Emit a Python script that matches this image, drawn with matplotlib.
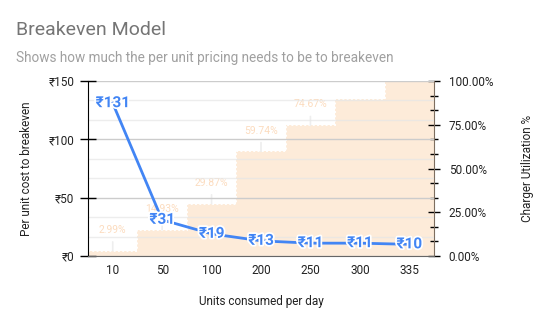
import numpy as np
import matplotlib
matplotlib.use('Agg')
import matplotlib.pyplot as plt
import matplotlib.patheffects as pe
from matplotlib.ticker import FuncFormatter, MultipleLocator

plt.rcParams['font.family'] = ['Roboto', 'DejaVu Sans']

units = ['10', '50', '100', '200', '250', '300', '335']
cost = [131, 31, 19, 13, 11, 11, 10]
utilization = [2.99, 14.93, 29.87, 59.74, 74.67, 89.60, 100.0]
util_labels = ['2.99%', '14.93%', '29.87%', '59.74%', '74.67%', '', '']

fig = plt.figure(figsize=(5.44, 3.25), dpi=100)
ax = fig.add_axes([88 / 544, 69 / 325, 346 / 544, 175 / 325])
ax2 = ax.twinx()
# put the cost line in front of the stepped area
ax.set_zorder(ax2.get_zorder() + 1)
ax.patch.set_visible(False)

x = np.arange(len(units))
edges = np.arange(len(units) + 1) - 0.5

# stepped area for utilization
ax2.stairs(utilization, edges, fill=True, color='#fdebd9', zorder=1)
ax2.stairs(utilization, edges, fill=False, color='white', linestyle=(0, (1, 1.2)),
           linewidth=1.4, baseline=None, zorder=2)
for i, lab in enumerate(util_labels):
    if not lab:
        continue
    ax2.annotate(lab, xy=(x[i], utilization[i]), xytext=(0, 15), textcoords='offset points',
                 ha='center', va='center', fontsize=7.5, color='#fcdcbf',
                 arrowprops=dict(arrowstyle='-', color='#eeeeee', lw=1.2,
                                 shrinkA=3, shrinkB=0))
ax2.set_ylim(0, 100)
ax2.yaxis.set_major_locator(MultipleLocator(25))
ax2.yaxis.set_minor_locator(MultipleLocator(100 / 12))
ax2.yaxis.set_major_formatter(FuncFormatter(lambda v, p: '%.2f%%' % v))
ax2.tick_params(axis='y', which='major', direction='inout', length=9, width=1,
                labelsize=8.5, labelcolor='#222222', pad=6)
ax2.tick_params(axis='y', which='minor', direction='inout', length=6, width=1)
ax2.set_ylabel('Charger Utilization %', fontsize=8.5, color='#222222', labelpad=20)

# cost per unit line
ax.set_ylim(0, 150)
ax.set_xlim(-0.5, len(units) - 0.5)
ax.yaxis.set_major_locator(MultipleLocator(50))
ax.yaxis.set_minor_locator(MultipleLocator(50 / 3))
ax.yaxis.set_major_formatter(FuncFormatter(lambda v, p: '₹%d' % v))
ax.grid(axis='y', which='major', color='#cccccc', linewidth=1, zorder=0)
ax.grid(axis='y', which='minor', color='#e6e6e6', linewidth=1, alpha=0.7, zorder=0)
ax.tick_params(axis='y', which='major', direction='inout', length=12, width=1,
               labelsize=8.5, labelcolor='#222222', pad=4)
ax.tick_params(axis='y', which='minor', length=0)
ax.tick_params(axis='x', length=0, labelsize=8.5, labelcolor='#222222', pad=6)
ax.set_xticks(x)
ax.set_xticklabels(units)
ax.plot(x, cost, color='#4285f4', linewidth=2, zorder=3)
for i, c in enumerate(cost):
    ax.text(x[i], c, '₹%d' % c, ha='center', va='center', fontsize=11,
            fontweight='bold', color='#4285f4', zorder=4,
            path_effects=[pe.withStroke(linewidth=2.5, foreground='white')])
ax.set_ylabel('Per unit cost to breakeven', fontsize=8.5, color='#222222', labelpad=11)
ax.set_xlabel('Units consumed per day', fontsize=8.5, color='#222222', labelpad=13)

for a in (ax, ax2):
    a.spines['top'].set_visible(False)
ax.spines['left'].set_color('black')
ax.spines['right'].set_visible(False)
ax.spines['bottom'].set_color('#666666')
ax2.spines['left'].set_visible(False)
ax2.spines['bottom'].set_visible(False)
ax2.spines['right'].set_color('#7d6e60')

fig.text(16 / 544, 1 - 35 / 325, 'Breakeven Model', fontsize=14, color='#757575',
         ha='left', va='baseline')
fig.text(16 / 544, 1 - 62 / 325, 'Shows how much the per unit pricing needs to be to breakeven',
         fontsize=9.8, color='#a0a0a0', ha='left', va='baseline')

fig.savefig('out.png', dpi=100)
